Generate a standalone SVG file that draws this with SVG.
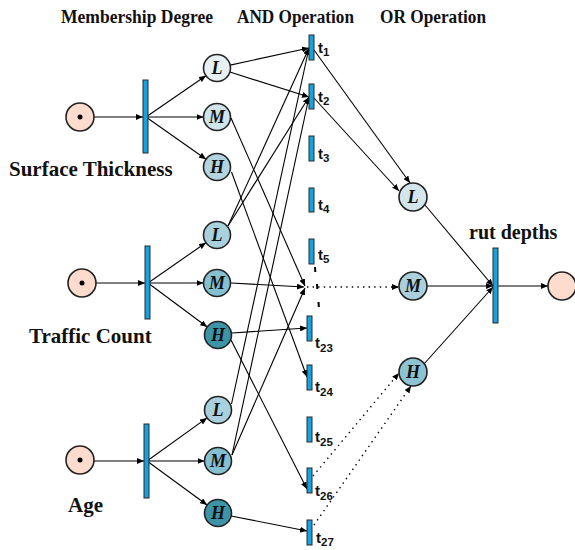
<svg xmlns="http://www.w3.org/2000/svg" width="575" height="550" viewBox="0 0 575 550">
<defs>
<marker id="ah" markerUnits="userSpaceOnUse" markerWidth="8" markerHeight="6" refX="7" refY="3" orient="auto">
<path d="M0,0 L7,3 L0,6 z" fill="#000"/>
</marker>
<style>
.hd{font-family:"Liberation Serif",serif;font-weight:bold;font-size:18px;fill:#111}
.lb{font-family:"Liberation Serif",serif;font-weight:bold;font-size:21px;fill:#111}
.cl{font-family:"Liberation Serif",serif;font-weight:bold;font-style:italic;font-size:18px;fill:#111;text-anchor:middle}
.tl{font-family:"Liberation Sans",Arial,sans-serif;font-weight:bold;font-size:15px;fill:#111}
.ts{font-size:11.5px}
.pl{stroke:#222;stroke-width:1.6}
.bar{fill:#14a2e0;stroke:#2a2a2a;stroke-width:1}
.ar{stroke:#000;stroke-width:1.1;fill:none;marker-end:url(#ah)}
.dt{stroke:#000;stroke-width:1.4;fill:none;stroke-dasharray:1.4 4.2;marker-end:url(#ah)}
.pc{fill:#fddccd}
</style>
</defs>
<rect width="575" height="550" fill="#fff"/>

<g id="headers">
<text class="hd" x="61" y="23" textLength="152" lengthAdjust="spacingAndGlyphs">Membership Degree</text>
<text class="hd" x="237" y="23" textLength="117" lengthAdjust="spacingAndGlyphs">AND Operation</text>
<text class="hd" x="380" y="23" textLength="106" lengthAdjust="spacingAndGlyphs">OR Operation</text>
</g>

<g id="connectors">
<line class="ar" x1="94" y1="117" x2="143" y2="117"/>
<line class="ar" x1="96" y1="283" x2="145" y2="283"/>
<line class="ar" x1="94" y1="461" x2="144" y2="461"/>
<line class="ar" x1="146" y1="117" x2="205.9" y2="75.7"/>
<line class="ar" x1="146" y1="117" x2="203.5" y2="117"/>
<line class="ar" x1="146" y1="117" x2="206" y2="159.2"/>
<line class="ar" x1="148" y1="283" x2="205.9" y2="242.7"/>
<line class="ar" x1="148" y1="283" x2="203.5" y2="283"/>
<line class="ar" x1="148" y1="283" x2="207.2" y2="327"/>
<line class="ar" x1="147" y1="461" x2="207" y2="417.9"/>
<line class="ar" x1="147" y1="461" x2="204.5" y2="461"/>
<line class="ar" x1="147" y1="461" x2="207.1" y2="505"/>
<line class="ar" x1="230.2" y1="65.1" x2="309" y2="48"/>
<line class="ar" x1="229.9" y1="72.1" x2="309" y2="97"/>
<line class="ar" x1="231" y1="118" x2="305" y2="286"/>
<line class="ar" x1="231.5" y1="172" x2="307" y2="377"/>
<line class="ar" x1="228" y1="226" x2="309" y2="48"/>
<line class="ar" x1="228" y1="226" x2="309" y2="97"/>
<line class="ar" x1="231" y1="283" x2="304" y2="287"/>
<line class="ar" x1="232" y1="333" x2="307" y2="328"/>
<line class="ar" x1="231" y1="340" x2="307" y2="489"/>
<line class="ar" x1="231.5" y1="404" x2="309" y2="48"/>
<line class="ar" x1="232" y1="455" x2="309" y2="97"/>
<line class="ar" x1="232" y1="455" x2="305" y2="288"/>
<line class="ar" x1="231" y1="516" x2="307" y2="531"/>
<line x1="315" y1="267" x2="315.3" y2="272" stroke="#000" stroke-width="2"/>
<line x1="317" y1="284" x2="317.3" y2="289" stroke="#000" stroke-width="2"/>
<line x1="318.5" y1="302" x2="318.8" y2="307" stroke="#000" stroke-width="2"/>
<line class="ar" x1="314" y1="50" x2="410" y2="183"/>
<line class="ar" x1="314" y1="98" x2="399" y2="191"/>
<line class="dt" x1="307" y1="287" x2="399" y2="287"/>
<line class="dt" x1="313" y1="476" x2="399" y2="373"/>
<line class="dt" x1="314" y1="525" x2="411" y2="386"/>
<line class="ar" x1="425" y1="205" x2="493" y2="286"/>
<line class="ar" x1="427" y1="286" x2="493" y2="286"/>
<line class="ar" x1="424" y1="364" x2="493" y2="287"/>
<line class="ar" x1="498" y1="286" x2="548" y2="286"/>
</g>

<g id="place-surface-thickness">
<circle class="pl pc" cx="80" cy="117" r="14"/>
<circle cx="80" cy="117" r="2.5" fill="#000"/>
<text class="lb" x="9" y="176">Surface Thickness</text>
</g>
<g id="place-traffic-count">
<circle class="pl pc" cx="82" cy="283" r="14"/>
<circle cx="82" cy="283" r="2.5" fill="#000"/>
<text class="lb" x="29" y="343">Traffic Count</text>
</g>
<g id="place-age">
<circle class="pl pc" cx="80" cy="460" r="14"/>
<circle cx="80" cy="460" r="2.5" fill="#000"/>
<text class="lb" x="68" y="512">Age</text>
</g>

<g id="bar-surface"><rect class="bar" x="143" y="80" width="5" height="73"/></g>
<g id="bar-traffic"><rect class="bar" x="145" y="246" width="5" height="73"/></g>
<g id="bar-age"><rect class="bar" x="144" y="424" width="5" height="74"/></g>

<g id="st-L"><circle class="pl" cx="217" cy="68" r="13.5" fill="#e7f1f4"/><text class="cl" x="217" y="74">L</text></g>
<g id="st-M"><circle class="pl" cx="217" cy="117" r="13.5" fill="#cfe4eb"/><text class="cl" x="217" y="123">M</text></g>
<g id="st-H"><circle class="pl" cx="217" cy="167" r="13.5" fill="#b1d4df"/><text class="cl" x="217" y="173">H</text></g>
<g id="tc-L"><circle class="pl" cx="217" cy="235" r="13.5" fill="#a9d0dd"/><text class="cl" x="217" y="241">L</text></g>
<g id="tc-M"><circle class="pl" cx="217" cy="283" r="13.5" fill="#85c0d0"/><text class="cl" x="217" y="289">M</text></g>
<g id="tc-H"><circle class="pl" cx="218" cy="335" r="13.5" fill="#3d94a6"/><text class="cl" x="218" y="341">H</text></g>
<g id="age-L"><circle class="pl" cx="218" cy="410" r="13.5" fill="#a9d0dd"/><text class="cl" x="218" y="416">L</text></g>
<g id="age-M"><circle class="pl" cx="218" cy="461" r="13.5" fill="#85c0d0"/><text class="cl" x="218" y="467">M</text></g>
<g id="age-H"><circle class="pl" cx="218" cy="513" r="13.5" fill="#3d94a6"/><text class="cl" x="218" y="519">H</text></g>

<g id="t1"><rect class="bar" x="309" y="35" width="5" height="25"/><text class="tl" x="318" y="53">t<tspan class="ts" dy="3">1</tspan></text></g>
<g id="t2"><rect class="bar" x="309" y="84" width="5" height="25"/><text class="tl" x="318" y="102">t<tspan class="ts" dy="3">2</tspan></text></g>
<g id="t3"><rect class="bar" x="309" y="136" width="5" height="25"/><text class="tl" x="318" y="159">t<tspan class="ts" dy="3">3</tspan></text></g>
<g id="t4"><rect class="bar" x="309" y="188" width="5" height="24"/><text class="tl" x="318" y="210">t<tspan class="ts" dy="3">4</tspan></text></g>
<g id="t5"><rect class="bar" x="309" y="239" width="5" height="25"/><text class="tl" x="318" y="260">t<tspan class="ts" dy="3">5</tspan></text></g>
<g id="t23"><rect class="bar" x="307" y="316" width="5" height="25"/><text class="tl" x="315" y="348">t<tspan class="ts" dy="4">23</tspan></text></g>
<g id="t24"><rect class="bar" x="307" y="365" width="5" height="25"/><text class="tl" x="315" y="392">t<tspan class="ts" dy="4">24</tspan></text></g>
<g id="t25"><rect class="bar" x="307" y="417" width="5" height="25"/><text class="tl" x="315" y="442">t<tspan class="ts" dy="4">25</tspan></text></g>
<g id="t26"><rect class="bar" x="307" y="468" width="5" height="25"/><text class="tl" x="315" y="496">t<tspan class="ts" dy="4">26</tspan></text></g>
<g id="t27"><rect class="bar" x="307" y="520" width="5" height="25"/><text class="tl" x="316" y="543">t<tspan class="ts" dy="3">27</tspan></text></g>

<g id="or-L"><circle class="pl" cx="413" cy="197" r="14" fill="#d3e6ec"/><text class="cl" x="413" y="203">L</text></g>
<g id="or-M"><circle class="pl" cx="413" cy="286" r="14" fill="#a9d0dc"/><text class="cl" x="413" y="292">M</text></g>
<g id="or-H"><circle class="pl" cx="413" cy="372" r="14" fill="#8cc4d3"/><text class="cl" x="413" y="378">H</text></g>

<g id="bar-rut"><rect class="bar" x="493" y="248" width="5" height="75"/><text class="lb" x="469" y="239" style="font-size:20px">rut depths</text></g>
<g id="place-output"><circle class="pl pc" cx="562" cy="286" r="14"/></g>
</svg>
